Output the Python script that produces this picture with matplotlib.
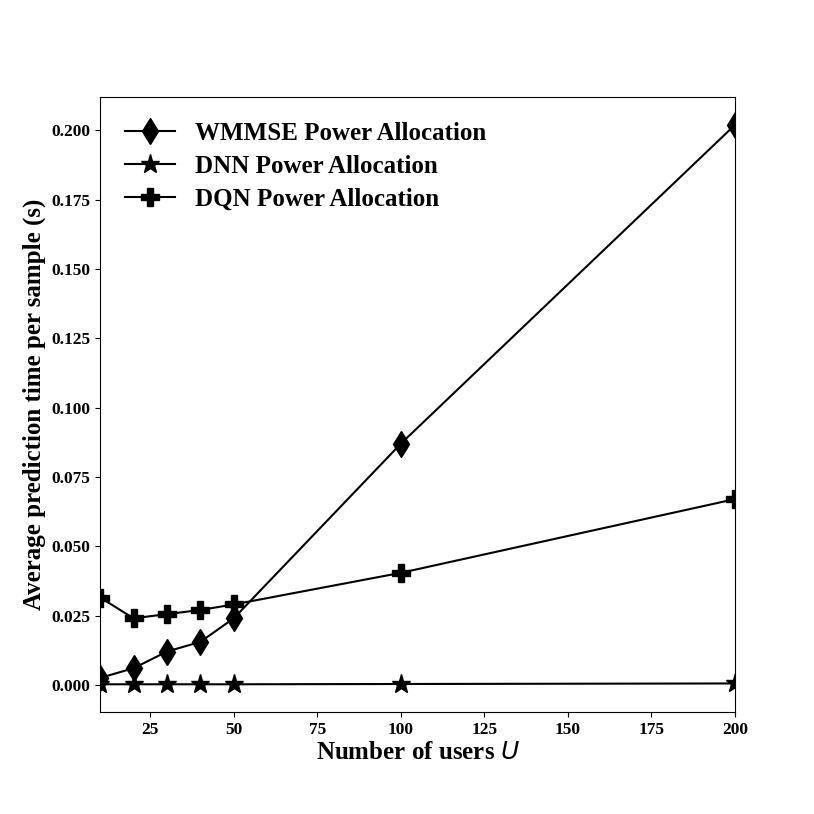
import matplotlib
matplotlib.use("Agg")
import matplotlib.pyplot as plt

users = [10, 20, 30, 40, 50, 100, 200]
wmmse_time = [0.0025, 0.006, 0.012, 0.0155, 0.024, 0.087, 0.202]
dnn_time = [0.0002, 0.0002, 0.0002, 0.0002, 0.0002, 0.0003, 0.0005]
dqn_time = [0.0315, 0.024, 0.0255, 0.027, 0.029, 0.0404, 0.067]

plt.rcParams["font.family"] = ["Liberation Serif", "DejaVu Serif"]
plt.rcParams["font.weight"] = "bold"
plt.rcParams["mathtext.fontset"] = "custom"
plt.rcParams["mathtext.it"] = "DejaVu Sans:italic:normal"
plt.rcParams["mathtext.bfit"] = "DejaVu Sans:italic:normal"

fig = plt.figure(figsize=(8.14, 8.14), dpi=100)
ax = fig.add_axes([0.123, 0.125, 0.78, 0.756])

ax.plot(users, wmmse_time, color="black", marker="d", markersize=13, label="WMMSE Power Allocation")
ax.plot(users, dnn_time, color="black", marker="*", markersize=14, label="DNN Power Allocation")
ax.plot(users, dqn_time, color="black", marker="P", markersize=13, label="DQN Power Allocation")

ax.set_xlim(10, 200)
ax.set_xlabel("Number of users $U$", fontsize=18, fontweight="bold", labelpad=2)
ax.set_ylabel("Average prediction time per sample (s)", fontsize=18, fontweight="bold")
ax.set_yticks([0.0, 0.025, 0.05, 0.075, 0.1, 0.125, 0.15, 0.175, 0.2])
ax.set_yticklabels([f"{v:.3f}" for v in ax.get_yticks()])
ax.tick_params(labelsize=12.5)
for lbl in ax.get_xticklabels() + ax.get_yticklabels():
    lbl.set_fontweight("bold")

ax.legend(loc="upper left", frameon=False, prop={"size": 18, "weight": "bold"},
          borderaxespad=0.6, labelspacing=0.4)

fig.savefig("out.png", dpi=100)
